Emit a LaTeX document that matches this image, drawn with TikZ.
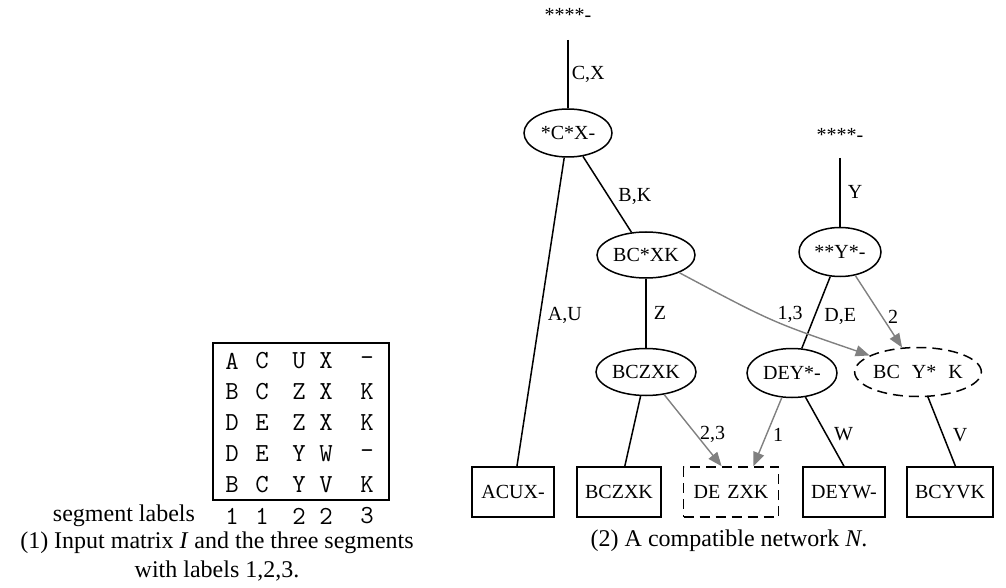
\documentclass[tikz,border=0pt]{standalone}
\usepackage{fontspec}
\setmainfont{Liberation Serif}
\usepackage{xcolor}
\usepackage{tikz}
\usetikzlibrary{shapes.geometric,arrows.meta}
\definecolor{linkgray}{RGB}{128,128,128}

\begin{document}
\begin{tikzpicture}[x=0.5pt,y=-0.5pt,
	nodetxt/.style={font=\fontsize{10}{12}\selectfont},
	ell/.style={nodetxt,ellipse,draw,line width=0.75pt,inner sep=0pt},
	leaf/.style={nodetxt,rectangle,draw,line width=0.75pt,inner sep=0pt,minimum width=41pt,minimum height=25pt},
	gapline/.style={dash pattern=on 5pt off 3pt},
	cell/.style={font=\fontsize{13}{15}\selectfont\ttfamily,inner sep=0pt},
	tree/.style={line width=0.75pt},
	link/.style={line width=0.7pt,linkgray,-{Triangle[length=7pt,width=5.5pt]}},
	elbl/.style={nodetxt,text=black,right,inner sep=1.5pt},
	captxt/.style={font=\fontsize{12}{14.5}\selectfont,align=center}]
	\useasboundingbox (0,0) rectangle (1006,588);

	% (1) input matrix
	\draw[line width=0.65pt] (213,343) rectangle (389,500);
	\foreach \a/\b/\c/\d/\e [count=\r] in {A/C/U/X/-,B/C/Z/X/K,D/E/Z/X/K,D/E/Y/W/-,B/C/Y/V/K,1/1/2/2/3} {
		\node[cell] (m\r-1) at (232,{361+31*(\r-1)}) {\a};
		\node[cell] (m\r-2) at (262,{361+31*(\r-1)}) {\b};
		\node[cell] (m\r-3) at (299,{361+31*(\r-1)}) {\c};
		\node[cell] (m\r-4) at (326,{361+31*(\r-1)}) {\d};
		\node[cell] (m\r-5) at (367,{361+31*(\r-1)}) {\e};
	}
	\node[captxt,anchor=east] (seg) at (202,516) {segment labels};
	\node[captxt] (cap1) at (217,557) {(1) Input matrix \textit{I} and the three segments\\with labels 1,2,3.};

	% (2) network
	\node[nodetxt] (r1) at (568,15) {****-};
	\coordinate (r1b) at (568,40);
	\node[ell,minimum width=44pt,minimum height=24pt] (cx) at (568,133) {*C*X-};
	\node[ell,minimum width=49pt,minimum height=23pt] (bcxk) at (646,255) {BC*XK};
	\node[ell,minimum width=50pt,minimum height=23.5pt] (bczxk) at (646,372) {BCZXK};
	\node[nodetxt] (r2) at (840,135) {****-};
	\coordinate (r2b) at (840,158);
	\node[ell,minimum width=41pt,minimum height=24.5pt] (yy) at (840,252) {**Y*-};
	\node[ell,minimum width=45pt,minimum height=24.5pt] (deyy) at (792,373) {DEY*-};
	\node[ell,gapline,minimum width=58.5pt,minimum height=24.5pt] (bcyk) at (918,372) {BC\hspace{0.6em}Y*\hspace{0.6em}K};

	\node[leaf] (acux) at (513,492) {ACUX-};
	\node[leaf,minimum width=42pt] (bczxkl) at (619,492) {BCZXK};
	\node[leaf,gapline,minimum width=47.5pt] (dezxk) at (731,492) {DE\hspace{0.35em}ZXK};
	\node[leaf] (deyw) at (844,492) {DEYW-};
	\node[leaf,minimum width=43pt] (bcyvk) at (950,492) {BCYVK};

	\draw[tree] (r1b) -- node[elbl]{C,X} (cx);
	\draw[tree] (cx) -- node[elbl,pos=0.51,right=2pt]{A,U} (acux);
	\draw[tree] (cx) -- node[elbl,pos=0.53,right=3pt]{B,K} (bcxk);
	\draw[tree] (bcxk) -- node[elbl,right=2pt]{Z} (bczxk);
	\draw[tree] (bczxk) -- (bczxkl);
	\draw[tree] (r2b) -- node[elbl,right=2pt]{Y} (yy);
	\draw[tree] (yy) -- node[elbl,pos=0.55,right=3pt]{D,E} (deyy);
	\draw[tree] (deyy) -- node[elbl,pos=0.54,right=2pt]{W} (deyw.north);
	\draw[tree] (bcyk) -- node[elbl,pos=0.55,right=3pt]{V} (bcyvk.78);

	\draw[link] (bcxk) .. controls (772,322) .. node[elbl,pos=0.62,above,inner sep=2pt]{1,3} (bcyk);
	\draw[link] (yy) -- node[elbl,pos=0.58,right=1pt]{2} (bcyk);
	\draw[link] (bczxk) -- node[elbl,pos=0.56,right=0pt]{2,3} (dezxk.110);
	\draw[link] (deyy) -- node[elbl,pos=0.54,right=1.5pt]{1} (dezxk.49);

	\node[captxt] (cap2) at (729,541) {(2) A compatible network \textit{N}.};
\end{tikzpicture}
\end{document}
